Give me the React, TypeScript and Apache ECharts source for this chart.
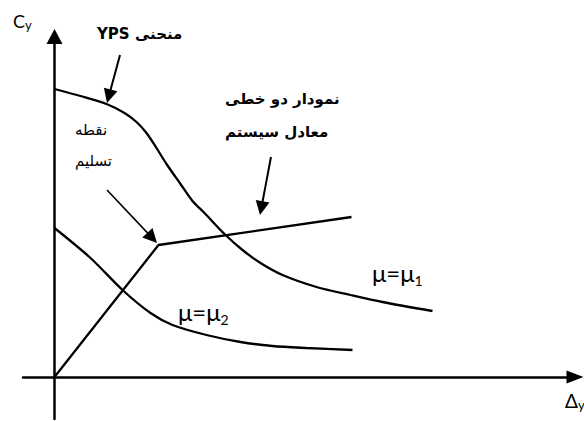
import { useEffect, useRef } from "react";
import * as echarts from "echarts";

// Schematic values: x = Δy measured from the origin, y = Cy (arbitrary units)
const ypsX = [0, 26, 52, 70, 82, 92, 102, 112, 126, 138, 150, 170, 188, 206, 228, 262, 296, 328, 378];
const ypsY = [288, 281, 273, 264, 255, 244, 229, 213, 193, 176, 164, 143, 127, 114, 102, 90, 82, 75, 66];

const mu2X = [0, 36, 68, 96, 118, 152, 186, 218, 252, 298];
const mu2Y = [149, 119, 87, 64, 52, 42, 35, 31, 29, 27];

const bilinearX = [0, 104, 297];
const bilinearY = [0, 132, 160];

// Annotation arrows: [fromX, fromY, tipX, tipY, lineWidth]
const arrows: number[][] = [
  [65.5, 322, 52.5, 274, 2],
  [216.5, 220, 205.5, 162, 2],
  [52.5, 187, 102.5, 134, 1.6],
];

const xRange = [-31.5, 520.5];
const yRange = [-42, 340.5];

const ypsLabel = "YPS منحنی";
const bilinearLabel1 = "نمودار دو خطی";
const bilinearLabel2 = "معادل سیستم";
const yieldLabel1 = "نقطه";
const yieldLabel2 = "تسلیم";
const mu1Label = ["μ=μ", "1"];
const mu2Label = ["μ=μ", "2"];
const yAxisName = ["C", "y"];
const xAxisName = ["Δ", "y"];

const ARABIC = '"DejaVu Sans", sans-serif';
const LATIN = 'Lato, "DejaVu Sans", sans-serif';
const ARROW = 14;

function zip(xs: number[], ys: number[]) {
  return xs.map((x, i) => [x, ys[i]]);
}

function arrowLine(a: number[]) {
  const [x1, y1, x2, y2, w] = a;
  const dx = x2 - x1;
  const dy = y2 - y1;
  const L = Math.sqrt(dx * dx + dy * dy);
  const ex = x2 - (dx / L) * (ARROW / 2);
  const ey = y2 - (dy / L) * (ARROW / 2);
  return [
    { coord: [x1, y1], symbol: "none", lineStyle: { width: w, color: "#000", type: "solid" } },
    { coord: [ex, ey], symbol: "triangle", symbolSize: ARROW },
  ];
}

function subText(parts: string[], left: number, top: number, main: number, sub: number, lh: number) {
  return {
    type: "text",
    x: left,
    y: top,
    silent: true,
    style: {
      text: `{m|${parts[0]}}{s|${parts[1]}}`,
      fill: "#000",
      rich: {
        m: { fontSize: main, fontFamily: LATIN, lineHeight: lh, fill: "#000" },
        s: { fontSize: sub, fontFamily: LATIN, lineHeight: sub, verticalAlign: "bottom", fill: "#000" },
      },
    },
  };
}

function plainText(text: string, left: number, top: number, weight: string) {
  return {
    type: "text",
    x: left,
    y: top,
    silent: true,
    style: { text, fill: "#000", font: `${weight} 15px ${ARABIC}` },
  };
}

export default function App() {
  const ref = useRef<HTMLDivElement>(null);
  useEffect(() => {
    if (!ref.current) return;
    const chart = echarts.init(ref.current, null, { renderer: "svg" });
    const lineStyle = { color: "#000", width: 2.3 };
    chart.setOption({
      animation: false,
      backgroundColor: "#fff",
      grid: { left: 23, right: 9, top: 36.5, bottom: 2, containLabel: false, outerBoundsMode: "none" },
      xAxis: {
        type: "value",
        min: xRange[0],
        max: xRange[1],
        splitLine: { show: false },
        axisTick: { show: false },
        axisLabel: { show: false },
        axisLine: {
          show: true,
          onZero: true,
          symbol: ["none", "triangle"],
          symbolSize: [13, 17],
          lineStyle: { color: "#000", width: 2.5 },
        },
      },
      yAxis: {
        type: "value",
        min: yRange[0],
        max: yRange[1],
        splitLine: { show: false },
        axisTick: { show: false },
        axisLabel: { show: false },
        axisLine: {
          show: true,
          onZero: true,
          symbol: ["none", "triangle"],
          symbolSize: [16, 15],
          lineStyle: { color: "#000", width: 2.5 },
        },
      },
      series: [
        {
          type: "line",
          name: "YPS",
          data: zip(ypsX, ypsY),
          smooth: 0.3,
          showSymbol: false,
          symbol: "none",
          lineStyle,
          silent: true,
        },
        {
          type: "line",
          name: "mu2",
          data: zip(mu2X, mu2Y),
          smooth: 0.3,
          showSymbol: false,
          symbol: "none",
          lineStyle,
          silent: true,
        },
        {
          type: "line",
          name: "bilinear",
          data: zip(bilinearX, bilinearY),
          showSymbol: false,
          symbol: "none",
          lineStyle,
          silent: true,
          markLine: {
            silent: true,
            animation: false,
            label: { show: false },
            emphasis: { disabled: true },
            itemStyle: { color: "#000" },
            lineStyle: { color: "#000", type: "solid", width: 2 },
            symbolSize: ARROW,
            data: arrows.map(arrowLine),
          },
        },
      ],
      graphic: [
        plainText(ypsLabel, 97, 26, "bold"),
        plainText(bilinearLabel1, 225, 91, "bold"),
        plainText(bilinearLabel2, 225, 124, "bold"),
        plainText(yieldLabel1, 75, 122, "normal"),
        plainText(yieldLabel2, 75, 153, "normal"),
        subText(mu1Label, 372, 257, 24, 14, 30),
        subText(mu2Label, 178, 296, 24, 14, 30),
        subText(yAxisName, 13, 10, 18, 13, 21),
        subText(xAxisName, 565, 389, 19, 13, 22),
      ],
    });
    return () => chart.dispose();
  }, []);
  return (
    <div
      ref={ref}
      style={{ position: "fixed", left: 0, top: 0, width: 584, height: 421, background: "#fff" }}
    />
  );
}
